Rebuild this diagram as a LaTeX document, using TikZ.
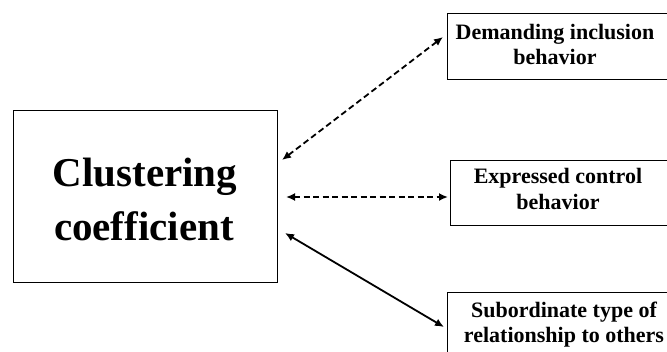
\documentclass[tikz,border=0pt]{standalone}
\usepackage{fontspec}
\setmainfont{Liberation Serif}
\usetikzlibrary{arrows.meta}
\begin{document}
\begin{tikzpicture}[x=1pt,y=-1pt,
  frame/.style={draw=black,line width=1.4pt,inner sep=0pt,anchor=north west},
  label/.style={font=\fontsize{22}{26}\selectfont\bfseries,align=center},
  biglabel/.style={font=\fontsize{41}{54}\selectfont\bfseries,align=center},
  link/.style={line width=1.8pt,{Latex[length=9pt,width=8pt]}-{Latex[length=9pt,width=8pt]}},
  dashlink/.style={link,dash pattern=on 6pt off 3.5pt}]
\useasboundingbox (0,0) rectangle (667,351);
\begin{scope}
\clip (0,0) rectangle (667,351);
% boxes
\node[frame,minimum width=264pt,minimum height=172pt] (main) at (13,110) {};
\node[frame,minimum width=224pt,minimum height=66pt] (inc) at (447,13) {};
\node[frame,minimum width=224pt,minimum height=65pt] (ctl) at (450,160) {};
\node[frame,minimum width=236pt,minimum height=80pt] (sub) at (447,292) {};
% texts
\node[biglabel,anchor=base] (t0) at (145,186) {Clustering};
\node[biglabel,anchor=base] (t0b) at (144,240) {coefficient};
\node[label,anchor=base] (t1) at (555,39) {Demanding inclusion};
\node[label,anchor=base] (t1b) at (555,64) {behavior};
\node[label,anchor=base] (t2) at (558,183) {Expressed control};
\node[label,anchor=base] (t2b) at (558,209) {behavior};
\node[label,anchor=base] (t3) at (564,317) {Subordinate type of};
\node[label,anchor=base] (t3b) at (564,342) {relationship to others};
% connector end points
\coordinate (a1) at (282,160);
\coordinate (b1) at (443,37);
\coordinate (a2) at (286,197);
\coordinate (b2) at (448,197);
\coordinate (a3) at (285,233);
\coordinate (b3) at (444,327);
\draw[dashlink] (a1) -- (b1);
\draw[dashlink] (a2) -- (b2);
\draw[link] (a3) -- (b3);
\end{scope}
\end{tikzpicture}
\end{document}
